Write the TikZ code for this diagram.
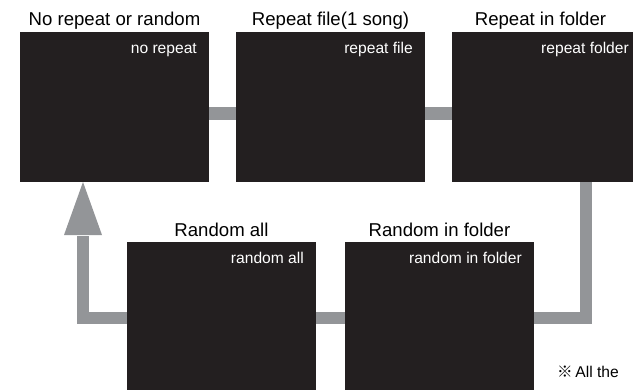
\documentclass[tikz,border=0pt]{standalone}
\usepackage{fontspec}
\setmainfont{Liberation Sans}
\newfontfamily\cjk{Noto Sans CJK JP}
\usetikzlibrary{calc}
\definecolor{boxc}{HTML}{231F20}
\definecolor{connc}{HTML}{939598}
\begin{document}
\begin{tikzpicture}[x=1pt,y=-1pt,
  box/.style={fill=boxc, draw=none, minimum width=189pt, minimum height=150pt, anchor=north west, inner sep=0pt, outer sep=0pt},
  tallbox/.style={box, minimum height=160pt},
  title/.style={anchor=base, font=\fontsize{18.6}{20}\selectfont, text=black, inner sep=0pt},
  lbl/.style={anchor=base east, font=\fontsize{15.6}{17}\selectfont, text=white, inner sep=0pt},
  note/.style={anchor=base west, font=\fontsize{15.6}{17}\selectfont, text=black, inner sep=0pt},
  conn/.style={draw=connc, line width=12.5pt},
  tip/.style={fill=connc, draw=none}]
\useasboundingbox (0,0) rectangle (633,389);
\clip (0,0) rectangle (633,389);
% boxes
\node[box] (b1) at (20,32) {};
\node[box] (b2) at (236,32) {};
\node[box] (b3) at (452,32) {};
\node[tallbox] (b4) at (127,242) {};
\node[tallbox] (b5) at (345,242) {};
% titles
\node[title] (t1) at ([yshift=7pt]b1.north) {No repeat or random};
\node[title] (t2) at ([yshift=7pt]b2.north) {Repeat file(1 song)};
\node[title] (t3) at ([xshift=-6pt,yshift=7pt]b3.north) {Repeat in folder};
\node[title] (t4) at ([yshift=6pt]b4.north) {Random all};
\node[title] (t5) at ([yshift=6pt]b5.north) {Random in folder};
% labels inside boxes
\node[lbl] (l1) at ([xshift=-12pt,yshift=-21pt]b1.north east) {no repeat};
\node[lbl] (l2) at ([xshift=-12pt,yshift=-21pt]b2.north east) {repeat file};
\node[lbl] (l3) at ([xshift=-12pt,yshift=-21pt]b3.north east) {repeat folder};
\node[lbl] (l4) at ([xshift=-12pt,yshift=-21pt]b4.north east) {random all};
\node[lbl] (l5) at ([xshift=-12pt,yshift=-21pt]b5.north east) {random in folder};
% connectors
\draw[conn] ([yshift=-6.5pt]b1.east) -- ([yshift=-6.5pt]b2.west);
\draw[conn] ([yshift=-6.5pt]b2.east) -- ([yshift=-6.5pt]b3.west);
\coordinate (rc) at (586,318);
\coordinate (lc) at (83,318);
\coordinate (ab) at (83,235);
\draw[conn] (b3.south -| rc) -- (rc) -- (rc -| b5.east);
\draw[conn] (b4.east |- rc) -- (b5.west |- rc);
\draw[conn] (b4.west |- lc) -- (lc) -- ([yshift=-1pt]ab);
\coordinate (tp) at (lc |- b1.south);
\fill[tip] ($(ab)+(-19,0)$) -- ($(ab)+(19,0)$) -- (tp) -- cycle;
% note
\node[note] (n1) at (557,377) {{\cjk ※}\,All the};
\end{tikzpicture}
\end{document}
